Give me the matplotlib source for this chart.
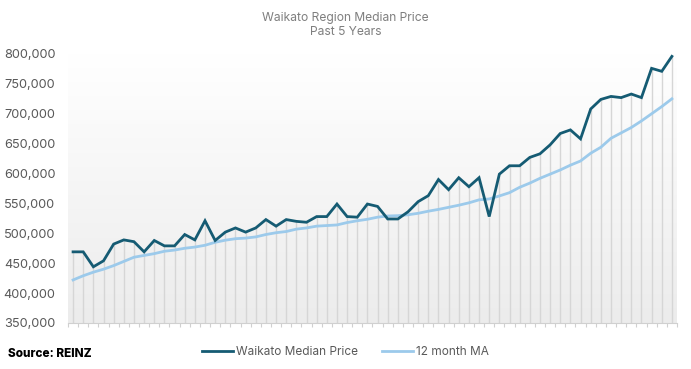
import numpy as np
import matplotlib
matplotlib.use('Agg')
import matplotlib.pyplot as plt
from matplotlib.ticker import FuncFormatter

plt.rcParams['font.family'] = ['Inter', 'DejaVu Sans']

# Monthly median price, last 5 years (60 months)
median_price = [
    469000, 469000, 444000, 454000, 482000, 489000, 486000, 469000, 488000, 479000,
    479000, 498000, 489000, 521000, 488000, 502000, 509000, 502000, 509000, 523000,
    512000, 523000, 520000, 518500, 528000, 528000, 549000, 528000, 527000, 549000,
    545000, 524000, 524000, 536000, 553000, 563000, 590000, 573000, 593000, 578000,
    593000, 528000, 599000, 613000, 613000, 627000, 633000, 648000, 667000, 673000,
    658000, 708000, 724000, 729000, 727000, 733000, 727000, 776000, 771000, 796000,
]

# 12 month moving average
ma_12 = [
    422000, 429000, 435000, 440000, 446000, 453000, 460000, 463000, 466000, 470000,
    472000, 475000, 477000, 480000, 485000, 488500, 491000, 492000, 494000, 498000,
    501000, 503000, 507000, 509000, 512000, 513000, 514000, 518000, 521000, 523500,
    527000, 529000, 529500, 531000, 533500, 537000, 540000, 543500, 547000, 551000,
    556000, 557500, 562500, 568000, 577000, 584000, 592000, 599000, 606000, 614000,
    621000, 634000, 644000, 659000, 668000, 677000, 688000, 700000, 712000, 725000,
]

y_ticks = [350000, 400000, 450000, 500000, 550000, 600000, 650000, 700000, 750000, 800000]

dark = '#155b73'
light = '#9ccaeb'
text_grey = '#595959'

x = np.arange(len(median_price))

fig = plt.figure(figsize=(6.91, 3.69), dpi=100)
ax = fig.add_axes([0.0984, 0.1247, 0.8813, 0.729])

ymin, ymax = 350000, 800000
xmin, xmax = -0.5, len(x) - 0.5

# gradient background: white at top, light grey at bottom
grad = np.linspace(1.0, 0.0, 256).reshape(-1, 1)
cmap = matplotlib.colors.LinearSegmentedColormap.from_list('bg', ['#ececec', '#ffffff'])
ax.imshow(grad, extent=[xmin, xmax, ymin, ymax], aspect='auto', cmap=cmap,
          origin='upper', zorder=0, vmin=0, vmax=1)

# drop lines to the median series
ax.vlines(x, ymin, median_price, color='#d6d6d6', linewidth=1.0, zorder=1)

ax.plot(x, median_price, color=dark, linewidth=2.0, zorder=3,
        solid_joinstyle='miter', label='Waikato Median Price')
ax.plot(x, ma_12, color=light, linewidth=2.0, zorder=2, label='12 month MA')

ax.set_xlim(xmin, xmax)
ax.set_ylim(ymin, ymax)
ax.set_yticks(y_ticks)
ax.yaxis.set_major_formatter(FuncFormatter(lambda v, p: f'{int(v):,}'))
ax.tick_params(axis='y', length=0, labelsize=9.2, labelcolor=text_grey, pad=9)

ax.set_xticks(np.arange(xmin, xmax + 0.01, 1.0))
ax.set_xticklabels([])
ax.tick_params(axis='x', length=3, color='#d0d0d0', width=0.8)

for s in ['top', 'right', 'left']:
    ax.spines[s].set_visible(False)
ax.spines['bottom'].set_color('#d0d0d0')
ax.spines['bottom'].set_linewidth(0.8)

fig.text(0.5, 0.968, 'Waikato Region Median Price\nPast 5 Years', ha='center', va='top',
         fontsize=8.7, color='#7f7f7f', linespacing=1.2)

fig.text(0.012, 0.04, 'Source: REINZ', ha='left', va='center',
         fontsize=8.5, fontweight='heavy', color='black')

leg = fig.legend(loc='center', bbox_to_anchor=(0.50, 0.045), ncol=2, frameon=False,
                 fontsize=8.5, handlelength=2.6, columnspacing=2.0, handletextpad=0.3)
for t in leg.get_texts():
    t.set_color(text_grey)

plt.savefig('out.png', dpi=100)
